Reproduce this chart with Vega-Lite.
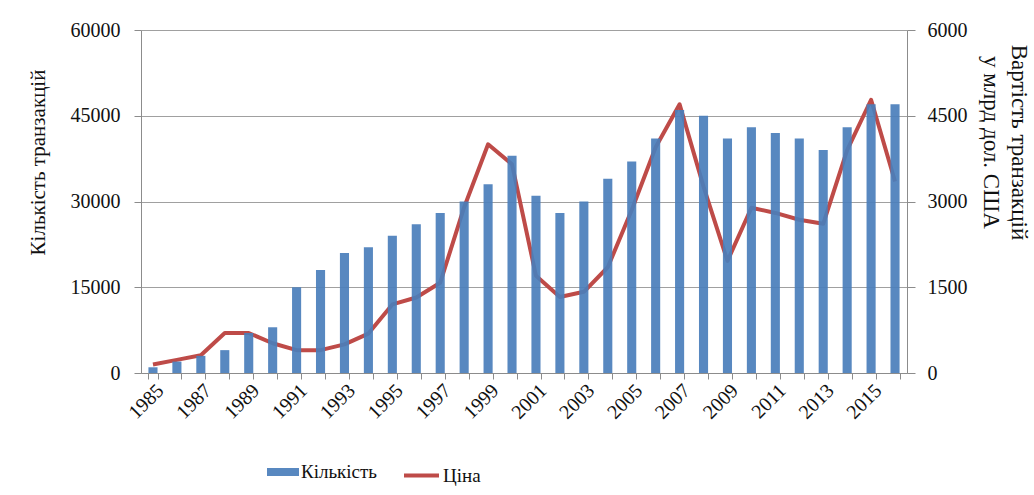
{
  "$schema": "https://vega.github.io/schema/vega-lite/v6.json",
  "width": 766,
  "height": 343,
  "autosize": {"type": "none"},
  "padding": {"left": 141, "top": 30, "right": 127, "bottom": 122},
  "background": "white",
  "config": {
    "view": {"stroke": null},
    "font": "Liberation Serif",
    "axis": {
      "labelFont": "Liberation Serif",
      "titleFont": "Liberation Serif",
      "labelColor": "#111111",
      "titleColor": "#111111",
      "labelFontSize": 20,
      "titleFontSize": 21,
      "titleFontWeight": "normal",
      "domainColor": "#8c8c8c",
      "tickColor": "#8c8c8c",
      "gridColor": "#a0a0a0"
    },
    "legend": {
      "labelFont": "Liberation Serif",
      "labelFontSize": 19,
      "labelColor": "#111111"
    }
  },
  "data": {
    "values": [
      {"year": 1985, "count": 1000, "price": 150},
      {"year": 1986, "count": 2000, "price": 230},
      {"year": 1987, "count": 3000, "price": 310},
      {"year": 1988, "count": 4000, "price": 700},
      {"year": 1989, "count": 7000, "price": 700},
      {"year": 1990, "count": 8000, "price": 520},
      {"year": 1991, "count": 15000, "price": 400},
      {"year": 1992, "count": 18000, "price": 400},
      {"year": 1993, "count": 21000, "price": 500},
      {"year": 1994, "count": 22000, "price": 690},
      {"year": 1995, "count": 24000, "price": 1200},
      {"year": 1996, "count": 26000, "price": 1320},
      {"year": 1997, "count": 28000, "price": 1580},
      {"year": 1998, "count": 30000, "price": 2900},
      {"year": 1999, "count": 33000, "price": 4000},
      {"year": 2000, "count": 38000, "price": 3650},
      {"year": 2001, "count": 31000, "price": 1700},
      {"year": 2002, "count": 28000, "price": 1330},
      {"year": 2003, "count": 30000, "price": 1420},
      {"year": 2004, "count": 34000, "price": 1850},
      {"year": 2005, "count": 37000, "price": 2850},
      {"year": 2006, "count": 41000, "price": 3950},
      {"year": 2007, "count": 46000, "price": 4700},
      {"year": 2008, "count": 45000, "price": 3260},
      {"year": 2009, "count": 41000, "price": 1960},
      {"year": 2010, "count": 43000, "price": 2890},
      {"year": 2011, "count": 42000, "price": 2800},
      {"year": 2012, "count": 41000, "price": 2680},
      {"year": 2013, "count": 39000, "price": 2610},
      {"year": 2014, "count": 43000, "price": 3900},
      {"year": 2015, "count": 47000, "price": 4780},
      {"year": 2016, "count": 47000, "price": 3350}
    ]
  },
  "encoding": {
    "x": {
      "field": "year",
      "type": "ordinal",
      "scale": {"paddingInner": 0.62, "paddingOuter": 0.31},
      "axis": {
        "title": null,
        "labelAngle": -45,
        "labelExpr": "datum.value % 2 == 1 ? datum.value : ''",
        "tickBand": "extent",
        "tickSize": 6,
        "labelPadding": 1
      }
    }
  },
  "layer": [
    {
      "mark": {"type": "line", "strokeWidth": 4, "interpolate": "linear", "strokeJoin": "round"},
      "encoding": {
        "y": {
          "field": "price",
          "type": "quantitative",
          "scale": {"domain": [0, 6000]},
          "axis": {
            "orient": "right",
            "values": [0, 1500, 3000, 4500, 6000],
            "grid": false,
            "tickSize": 8,
            "labelPadding": 12,
            "format": "d",
            "title": ["Вартість транзакцій", "у млрд дол. США"],
            "titleAngle": 90,
            "titleX": 111,
            "titleY": 112,
            "titleAlign": "center",
            "titleBaseline": "middle",
            "titleLineHeight": 28,
            "titleFontSize": 23
          }
        },
        "stroke": {
          "datum": "Ціна",
          "type": "nominal",
          "scale": {"range": ["#be4b48"]},
          "legend": {
            "title": null,
            "orient": "none",
            "legendX": 261,
            "legendY": 426,
            "symbolType": "stroke",
            "symbolSize": 1225,
            "symbolStrokeWidth": 4,
            "labelOffset": 2,
            "padding": 0
          }
        }
      }
    },
    {
      "mark": {"type": "bar", "opacity": 0.92},
      "encoding": {
        "y": {
          "field": "count",
          "type": "quantitative",
          "scale": {"domain": [0, 60000]},
          "axis": {
            "orient": "left",
            "values": [0, 15000, 30000, 45000, 60000],
            "grid": true,
            "tickSize": 7,
            "labelPadding": 14,
            "format": "d",
            "title": "Кількість транзакцій",
            "titleAngle": -90,
            "titleX": -103,
            "titleY": 132,
            "titleAlign": "center",
            "titleBaseline": "middle"
          }
        },
        "fill": {
          "datum": "Кількість",
          "type": "nominal",
          "scale": {"range": ["#4a7ebb"]},
          "legend": {
            "title": null,
            "orient": "none",
            "legendX": 126,
            "legendY": 426,
            "symbolType": "M-1,-0.25H1V0.25H-1Z",
            "symbolSize": 1024,
            "symbolStrokeWidth": 0,
            "labelOffset": 2,
            "padding": 0
          }
        }
      }
    }
  ],
  "resolve": {"scale": {"y": "independent"}}
}
